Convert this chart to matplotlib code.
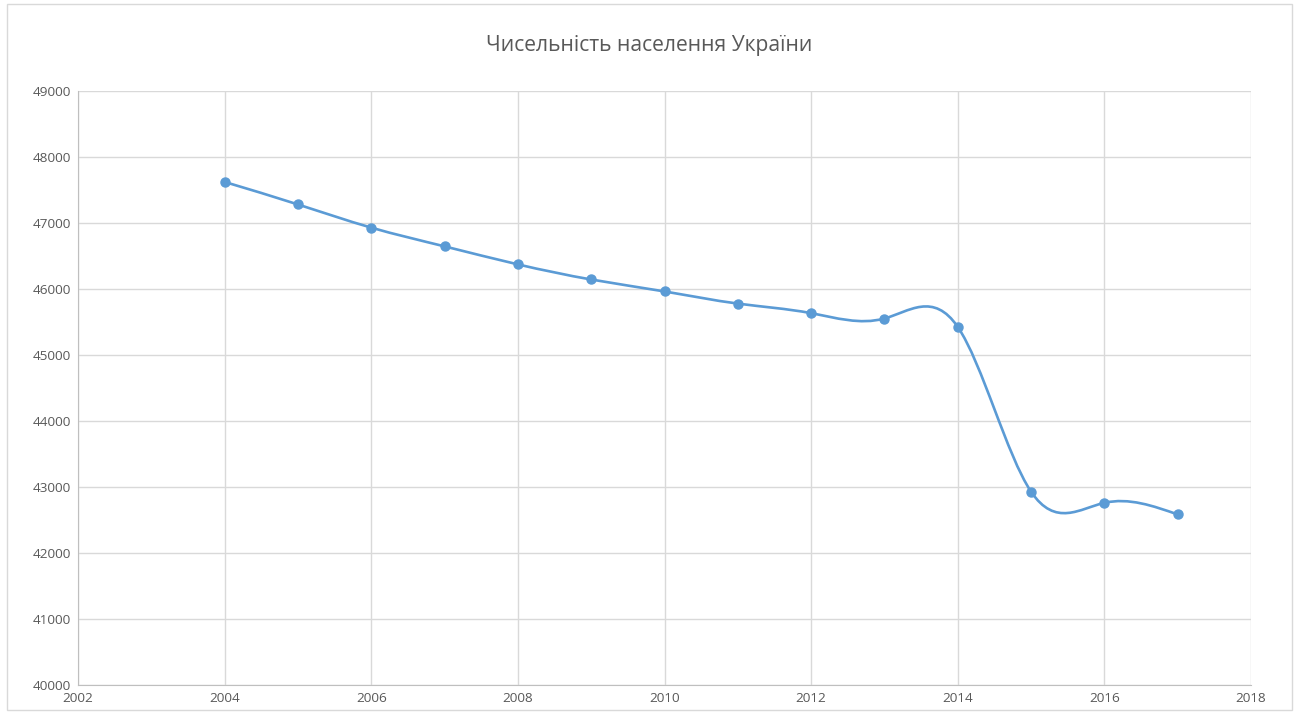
import numpy as np
import matplotlib
matplotlib.use("Agg")
import matplotlib.pyplot as plt
from matplotlib.path import Path
from matplotlib.patches import PathPatch, Rectangle

# ── Data ───────────────────────────────────────────────────────────────
years = [2004, 2005, 2006, 2007, 2008, 2009, 2010, 2011, 2012, 2013, 2014, 2015, 2016, 2017]
population = [47622, 47281, 46930, 46646, 46373, 46144, 45963, 45779, 45634, 45553,
              45426, 42929, 42760, 42584]
title = "Чисельність населення України"

LINE = "#5B9BD5"
GRID = "#D9D9D9"
TEXT = "#595959"

plt.rcParams["font.family"] = ["Open Sans", "DejaVu Sans"]


def spline_path(x, y):
    # natural cubic spline slopes, drawn as Bezier segments (Excel "smoothed line")
    x = np.asarray(x, float)
    y = np.asarray(y, float)
    n = len(x)
    h = np.diff(x)
    A = np.zeros((n, n))
    r = np.zeros(n)
    A[0, 0] = 2 / h[0]; A[0, 1] = 1 / h[0]
    r[0] = 3 * (y[1] - y[0]) / h[0] ** 2
    A[-1, -2] = 1 / h[-1]; A[-1, -1] = 2 / h[-1]
    r[-1] = 3 * (y[-1] - y[-2]) / h[-1] ** 2
    for i in range(1, n - 1):
        A[i, i - 1] = 1 / h[i - 1]
        A[i, i] = 2 / h[i - 1] + 2 / h[i]
        A[i, i + 1] = 1 / h[i]
        r[i] = 3 * ((y[i] - y[i - 1]) / h[i - 1] ** 2 + (y[i + 1] - y[i]) / h[i] ** 2)
    m = np.linalg.solve(A, r)
    verts = [(x[0], y[0])]
    codes = [Path.MOVETO]
    for i in range(n - 1):
        verts += [(x[i] + h[i] / 3, y[i] + m[i] * h[i] / 3),
                  (x[i + 1] - h[i] / 3, y[i + 1] - m[i + 1] * h[i] / 3),
                  (x[i + 1], y[i + 1])]
        codes += [Path.CURVE4] * 3
    return Path(verts, codes)


fig = plt.figure(figsize=(12.99, 7.16), dpi=100)
ax = fig.add_axes([78 / 1299, 1 - 685 / 716, (1251 - 78) / 1299, (685 - 91) / 716])

# chart area border
fig.patches.append(Rectangle((7 / 1299, 6 / 716), 1285 / 1299, 706 / 716, transform=fig.transFigure,
                             fill=False, edgecolor=GRID, linewidth=1))

ax.add_patch(PathPatch(spline_path(years, population), facecolor="none", edgecolor=LINE,
                       linewidth=1.9, zorder=3))
ax.plot(years, population, linestyle="none", marker="o", markersize=6.5, color=LINE, zorder=4)

ax.set_xlim(2002, 2018)
ax.set_ylim(40000, 49000)
ax.set_xticks(range(2002, 2019, 2))
ax.set_yticks(range(40000, 49001, 1000))
ax.grid(True, color=GRID, linewidth=1)
ax.set_axisbelow(True)
for s in ["top", "right"]:
    ax.spines[s].set_visible(False)
for s in ["left", "bottom"]:
    ax.spines[s].set_color("#BFBFBF")
ax.tick_params(length=0, labelsize=9.7, labelcolor=TEXT, pad=5)

fig.text(0.5, 1 - 46 / 716, title, ha="center", va="center", fontsize=15.2, color=TEXT)

plt.savefig("out.png", dpi=100)
